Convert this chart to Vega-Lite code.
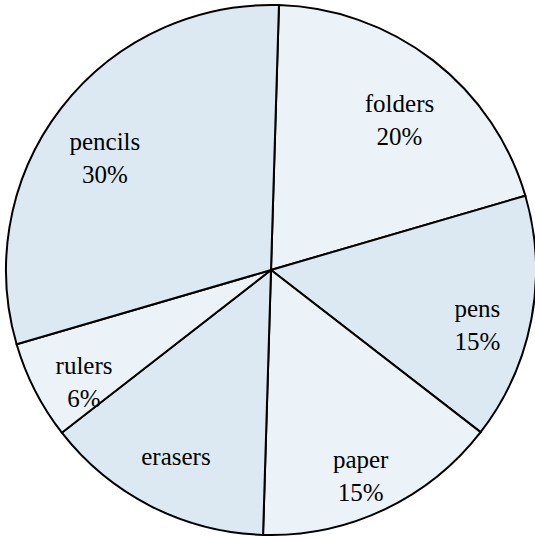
{
  "$schema": "https://vega.github.io/schema/vega-lite/v6.json",
  "width": 535,
  "height": 540,
  "autosize": {"type": "fit", "contains": "padding"},
  "padding": {"left": 7, "right": 0, "top": 0, "bottom": 0},
  "background": "white",
  "view": {"stroke": null},
  "config": {"lineBreak": "\n", "font": "Times New Roman"},
  "data": {
    "values": [
      {"item": "folders", "value": 20, "order": 1, "label": "folders\n20%"},
      {"item": "pens", "value": 15, "order": 2, "label": "pens\n15%"},
      {"item": "paper", "value": 15, "order": 3, "label": "paper\n15%"},
      {"item": "erasers", "value": 14, "order": 4, "label": "erasers"},
      {"item": "rulers", "value": 6, "order": 5, "label": "rulers\n6%"},
      {"item": "pencils", "value": 30, "order": 6, "label": "pencils\n30%"}
    ]
  },
  "encoding": {
    "theta": {"field": "value", "type": "quantitative", "stack": true, "scale": {"range": [0.03, 6.3132]}},
    "order": {"field": "order", "type": "quantitative"}
  },
  "layer": [
    {
      "mark": {"type": "arc", "outerRadius": 265, "stroke": "black", "strokeWidth": 2},
      "encoding": {
        "color": {
          "field": "item",
          "type": "nominal",
          "scale": {
            "domain": ["folders", "pens", "paper", "erasers", "rulers", "pencils"],
            "range": ["#ebf3f8", "#dce9f2", "#ebf3f8", "#dce9f2", "#ebf3f8", "#dce9f2"]
          },
          "legend": null
        }
      }
    },
    {
      "mark": {"type": "text", "radius": 210, "font": "'Liberation Serif'", "fontSize": 25, "lineHeight": 33, "color": "black", "align": "center", "baseline": "middle"},
      "encoding": {
        "text": {"field": "label", "type": "nominal"}
      }
    }
  ]
}
